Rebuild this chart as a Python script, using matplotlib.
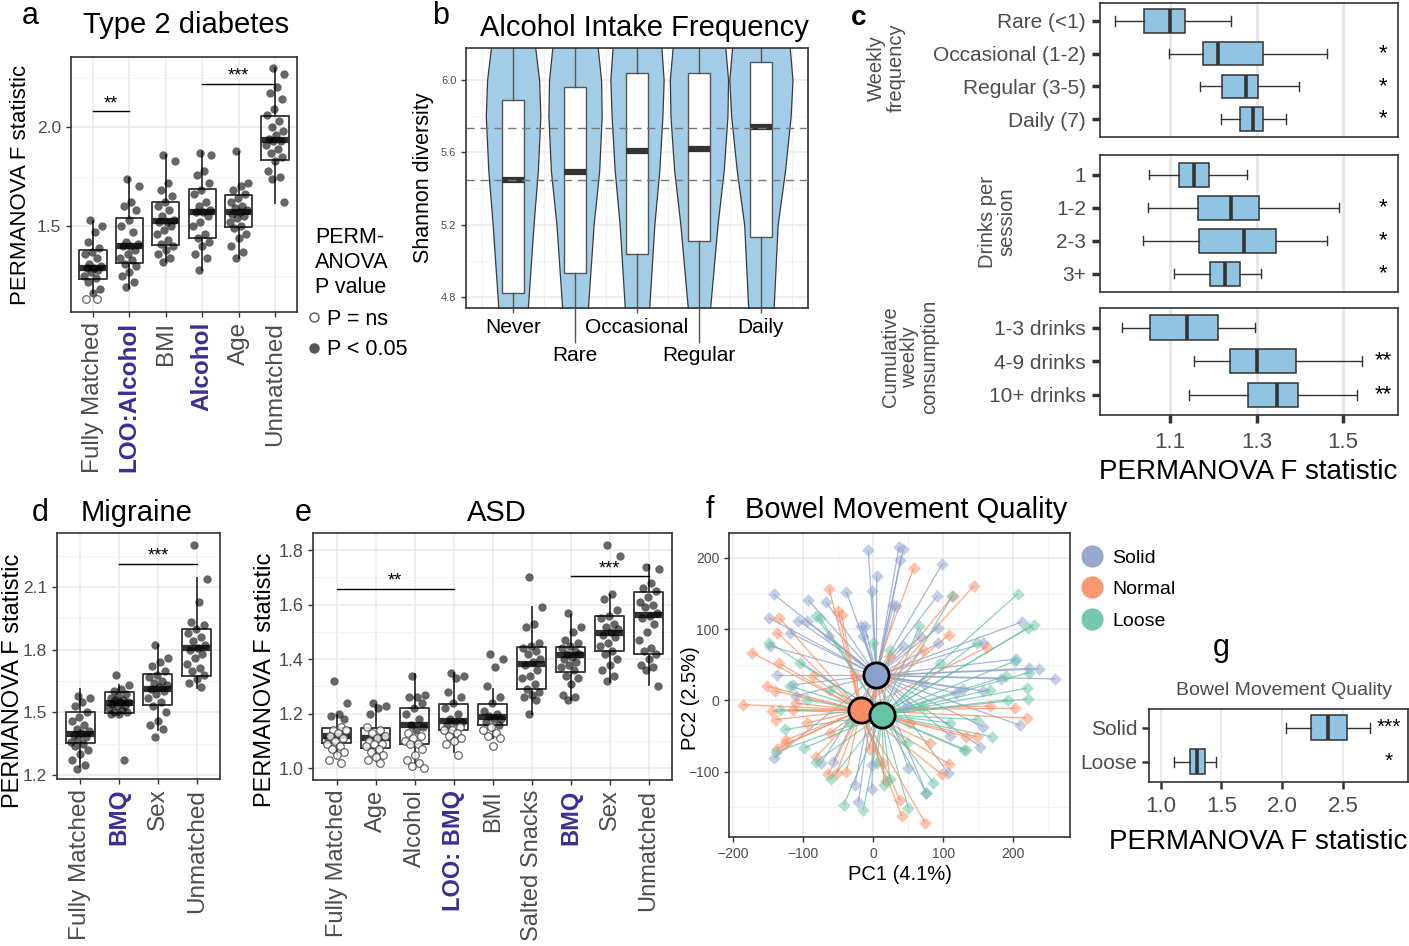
import numpy as np
import matplotlib.pyplot as plt
from matplotlib.lines import Line2D
from matplotlib.collections import LineCollection

plt.rcParams['font.family'] = ['Liberation Sans', 'DejaVu Sans']

W, H = 1409, 946
PURPLE = '#3b2f96'
DARK = '#333333'
GREY_TXT = '#4d4d4d'
BLUE_BOX = '#91c4e2'

# ---------------- panel a: Type 2 diabetes ----------------
a_labels = ['Fully Matched', 'LOO:Alcohol', 'BMI', 'Alcohol', 'Age', 'Unmatched']
a_highlight = [False, True, False, True, False, False]
a_q1 = [1.232, 1.313, 1.404, 1.439, 1.495, 1.833]
a_med = [1.288, 1.400, 1.525, 1.571, 1.571, 1.934]
a_q3 = [1.379, 1.540, 1.621, 1.687, 1.657, 2.056]
a_lo = [1.160, 1.187, 1.318, 1.278, 1.338, 1.616]
a_hi = [1.527, 1.742, 1.859, 1.874, 1.874, 2.298]
a_sig = [
    [1.53, 1.50, 1.47, 1.42, 1.39, 1.37, 1.36, 1.34, 1.31, 1.30, 1.29, 1.29, 1.28, 1.27, 1.25, 1.24, 1.22, 1.18, 1.16],
    [1.74, 1.70, 1.62, 1.60, 1.58, 1.53, 1.50, 1.47, 1.42, 1.41, 1.40, 1.40, 1.38, 1.36, 1.34, 1.33, 1.31, 1.30, 1.27, 1.25, 1.22, 1.19],
    [1.86, 1.83, 1.72, 1.68, 1.65, 1.62, 1.60, 1.58, 1.55, 1.53, 1.52, 1.52, 1.50, 1.48, 1.46, 1.43, 1.41, 1.40, 1.38, 1.36, 1.34, 1.32],
    [1.87, 1.86, 1.78, 1.76, 1.72, 1.68, 1.66, 1.62, 1.60, 1.58, 1.57, 1.57, 1.55, 1.52, 1.50, 1.46, 1.44, 1.42, 1.40, 1.36, 1.34, 1.28],
    [1.88, 1.72, 1.70, 1.68, 1.66, 1.64, 1.62, 1.60, 1.59, 1.58, 1.57, 1.56, 1.55, 1.54, 1.52, 1.50, 1.49, 1.46, 1.44, 1.40, 1.37, 1.34],
    [2.30, 2.27, 2.20, 2.17, 2.14, 2.09, 2.06, 2.03, 2.00, 1.98, 1.96, 1.94, 1.93, 1.93, 1.91, 1.89, 1.87, 1.85, 1.83, 1.78, 1.75, 1.74, 1.62],
]
a_ns = [[1.13, 1.13], [], [], [], [], []]
a_bars = [(1, 2, 2.08, '**'), (4, 6, 2.218, '***')]

# ---------------- panel b: Alcohol intake frequency ----------------
b_labels = ['Never', 'Rare', 'Occasional', 'Regular', 'Daily']
b_q1 = [4.82, 4.93, 5.04, 5.11, 5.13]
b_med = [5.447, 5.49, 5.61, 5.62, 5.74]
b_q3 = [5.889, 5.96, 6.04, 6.04, 6.10]
b_levels = [4.70, 5.20, 5.50, 5.80, 6.00, 6.20]
b_halfwidth = [
    [0.23, 0.33, 0.40, 0.44, 0.42, 0.35],
    [0.20, 0.30, 0.39, 0.43, 0.42, 0.36],
    [0.19, 0.28, 0.36, 0.41, 0.43, 0.39],
    [0.17, 0.30, 0.40, 0.46, 0.47, 0.42],
    [0.20, 0.27, 0.39, 0.48, 0.51, 0.46],
]
b_hlines = [5.735, 5.447]

# ---------------- panel c: alcohol facets ----------------
c_freq_labels = ['Rare (<1)', 'Occasional (1-2)', 'Regular (3-5)', 'Daily (7)']
c_freq_lo = [0.972, 1.097, 1.169, 1.218]
c_freq_q1 = [1.040, 1.175, 1.221, 1.261]
c_freq_med = [1.100, 1.211, 1.275, 1.292]
c_freq_q3 = [1.135, 1.315, 1.303, 1.314]
c_freq_hi = [1.241, 1.462, 1.397, 1.368]
c_freq_star = ['', '*', '*', '*']

c_sess_labels = ['1', '1-2', '2-3', '3+']
c_sess_lo = [1.051, 1.049, 1.038, 1.109]
c_sess_q1 = [1.121, 1.164, 1.167, 1.192]
c_sess_med = [1.156, 1.241, 1.271, 1.226]
c_sess_q3 = [1.190, 1.306, 1.346, 1.261]
c_sess_hi = [1.279, 1.490, 1.463, 1.310]
c_sess_star = ['', '*', '*', '*']

c_cum_labels = ['1-3 drinks', '4-9 drinks', '10+ drinks']
c_cum_lo = [0.990, 1.156, 1.144]
c_cum_q1 = [1.054, 1.238, 1.280]
c_cum_med = [1.138, 1.301, 1.348]
c_cum_q3 = [1.211, 1.391, 1.396]
c_cum_hi = [1.297, 1.544, 1.532]
c_cum_star = ['', '**', '**']

# ---------------- panel d: Migraine ----------------
d_labels = ['Fully Matched', 'BMQ', 'Sex', 'Unmatched']
d_highlight = [False, True, False, False]
d_q1 = [1.352, 1.497, 1.535, 1.676]
d_med = [1.396, 1.545, 1.612, 1.810]
d_q3 = [1.500, 1.597, 1.682, 1.897]
d_lo = [1.240, 1.487, 1.415, 1.618]
d_hi = [1.610, 1.631, 1.822, 2.142]
d_sig = [
    [1.58, 1.57, 1.55, 1.53, 1.50, 1.48, 1.46, 1.44, 1.42, 1.41, 1.40, 1.39, 1.38, 1.37, 1.36, 1.35, 1.34, 1.32, 1.30, 1.27, 1.25, 1.23],
    [1.68, 1.63, 1.61, 1.60, 1.59, 1.58, 1.57, 1.56, 1.56, 1.55, 1.55, 1.54, 1.53, 1.53, 1.52, 1.51, 1.50, 1.50, 1.49, 1.49, 1.27],
    [1.82, 1.76, 1.74, 1.72, 1.70, 1.68, 1.67, 1.65, 1.64, 1.63, 1.62, 1.61, 1.60, 1.59, 1.57, 1.55, 1.53, 1.50, 1.46, 1.44, 1.42, 1.38],
    [2.30, 2.14, 2.03, 1.93, 1.92, 1.90, 1.88, 1.86, 1.84, 1.82, 1.81, 1.80, 1.78, 1.76, 1.73, 1.71, 1.70, 1.68, 1.66, 1.64, 1.62],
]
d_ns = [[], [], [], []]
d_bars = [(2, 4, 2.21, '***')]

# ---------------- panel e: ASD ----------------
e_labels = ['Fully Matched', 'Age', 'Alcohol', 'LOO: BMQ', 'BMI', 'Salted Snacks', 'BMQ', 'Sex', 'Unmatched']
e_highlight = [False, False, False, True, False, False, True, False, False]
e_q1 = [1.091, 1.076, 1.088, 1.140, 1.157, 1.290, 1.354, 1.429, 1.421]
e_med = [1.120, 1.110, 1.159, 1.174, 1.187, 1.384, 1.415, 1.496, 1.561]
e_q3 = [1.146, 1.146, 1.222, 1.234, 1.237, 1.445, 1.445, 1.557, 1.646]
e_lo = [1.037, 1.028, 1.006, 1.061, 1.110, 1.198, 1.250, 1.315, 1.305]
e_hi = [1.195, 1.232, 1.344, 1.348, 1.290, 1.591, 1.563, 1.637, 1.744]
e_sig = [
    [1.32, 1.24, 1.20, 1.19, 1.18, 1.12, 1.11],
    [1.24, 1.23, 1.22, 1.20, 1.12, 1.11],
    [1.34, 1.27, 1.26, 1.26, 1.24, 1.22, 1.20, 1.18, 1.16, 1.15, 1.14],
    [1.35, 1.34, 1.33, 1.28, 1.26, 1.24, 1.22, 1.20, 1.18, 1.17, 1.17, 1.16],
    [1.42, 1.40, 1.37, 1.30, 1.26, 1.24, 1.21, 1.20, 1.19, 1.18, 1.18, 1.17, 1.16],
    [1.70, 1.59, 1.53, 1.52, 1.46, 1.45, 1.44, 1.43, 1.42, 1.40, 1.39, 1.38, 1.36, 1.34, 1.33, 1.31, 1.29, 1.28, 1.27, 1.26, 1.25, 1.20],
    [1.57, 1.52, 1.50, 1.47, 1.46, 1.45, 1.44, 1.43, 1.42, 1.42, 1.41, 1.40, 1.39, 1.38, 1.37, 1.36, 1.34, 1.33, 1.31, 1.27, 1.26, 1.25],
    [1.82, 1.78, 1.64, 1.62, 1.58, 1.56, 1.55, 1.53, 1.52, 1.51, 1.50, 1.49, 1.48, 1.46, 1.45, 1.43, 1.42, 1.40, 1.38, 1.36, 1.34, 1.32],
    [1.74, 1.73, 1.68, 1.66, 1.65, 1.63, 1.61, 1.60, 1.59, 1.57, 1.56, 1.55, 1.53, 1.50, 1.47, 1.44, 1.43, 1.42, 1.40, 1.38, 1.37, 1.36, 1.30],
]
e_ns = [
    [1.15, 1.14, 1.14, 1.13, 1.12, 1.11, 1.10, 1.09, 1.08, 1.07, 1.06, 1.05, 1.03, 1.02],
    [1.15, 1.14, 1.13, 1.12, 1.11, 1.10, 1.09, 1.09, 1.08, 1.07, 1.06, 1.05, 1.04, 1.03, 1.02],
    [1.13, 1.12, 1.11, 1.10, 1.09, 1.09, 1.07, 1.05, 1.03, 1.02, 1.01, 1.00],
    [1.15, 1.14, 1.14, 1.13, 1.12, 1.11, 1.10, 1.09, 1.05],
    [1.15, 1.14, 1.13, 1.12, 1.11, 1.08],
    [], [], [], [],
]
e_bars = [(1, 4, 1.659, '**'), (7, 9, 1.704, '***')]

# ---------------- panel f: PCoA spider ----------------
f_groups = ['Solid', 'Normal', 'Loose']
f_colors = ['#8da0cb', '#fc8d62', '#66c2a5']
f_centroid_x = [4.8, -18, 13]
f_centroid_y = [35, -14, -20]
solid_x = [-7, 37, 43, 39, 5, 99, -1, -142, -93, -67, -38, 91, 29, -149, -107, -95, -17, -12, 93, 212,
           -147, -63, 67, 93, 157, 204, 222, 237, 260, 183, 128, -137, -114, 157, 157, 210, 153, 110, -142, -74,
           -2, -26, -2, -21, 76, 50, 43, 33, -14, -119, 107, -57, 48, -110, 71, 119]
solid_y = [211, 216, 212, 197, 174, 192, 153, 149, 141, 138, 152, 146, 134, 116, 112, 111, 104, 105, 102, 110,
           76, 90, 90, 80, 80, 58, 45, 44, 30, 30, 16, 35, 22, 13, -37, -35, -65, -50, -81, -88,
           -91, -119, -124, -143, -130, -95, 76, 132, 90, 95, -102, -86, -8, 6, 24, 10]
normal_x = [58, 144, -63, -50, -45, -134, -137, 108, 163, -173, -134, -152, -140, -186, -144, -139, -125, -137, -126, -81,
            -64, -52, -38, 19, 38, 41, 74, 98, 109, 81, 133, 148, 202, 219, 114, -62, -95, -110, 24, -24,
            52, -5, -114, 167, 71, -86, 14]
normal_y = [186, 161, 157, 126, 120, 116, 95, 92, 75, 67, 52, 20, 13, -6, -15, -27, -56, -68, -62, -79,
            -104, -102, -100, -114, -140, -163, -172, -104, -90, -60, -51, -51, -11, -25, 147, -46, -32, -4, 62, 34,
            -32, -69, -13, -8, 71, 34, -88]
loose_x = [207, 113, 229, 221, 66, -76, -148, 148, -105, 202, 222, 219, 221, 193, 167, 169, 129, 133, 76, 86,
           50, 15, -14, -42, -60, -81, -98, -126, -133, -138, 0, 24, 110, 148, 71, -62, -95, -33, 48, 5,
           -81, 95, 24, -119, 190]
loose_y = [150, 147, 106, 102, 104, 116, 81, 81, 52, 55, 39, 17, 2, 1, 15, -51, -70, -70, -130, -116,
           -151, -119, -154, -147, -111, -86, -67, -41, -13, -72, 81, 71, -32, -27, -8, 15, 1, -32, -60, -88,
           118, 52, -111, 20, 34]
f_x = [solid_x, normal_x, loose_x]
f_y = [solid_y, normal_y, loose_y]

# ---------------- panel g: BMQ F statistics ----------------
g_labels = ['Solid', 'Loose']
g_lo = [2.034, 1.110]
g_q1 = [2.239, 1.239]
g_med = [2.376, 1.299]
g_q3 = [2.533, 1.363]
g_hi = [2.720, 1.459]
g_star = ['***', '*']


def add_ax(fig, x0, y0, x1, y1):
    return fig.add_axes([x0 / W, 1 - y1 / H, (x1 - x0) / W, (y1 - y0) / H])


def ftext(fig, x, y, s, **kw):
    kw.setdefault('va', 'center')
    return fig.text(x / W, 1 - y / H, s, **kw)


def base_style(ax):
    for s in ax.spines.values():
        s.set_color(DARK)
        s.set_linewidth(1.2)
    ax.tick_params(which='major', color=DARK, labelcolor=GREY_TXT, length=3.5, width=1)
    ax.tick_params(which='minor', length=0)
    ax.set_axisbelow(True)


def stats_list(q1, med, q3, lo, hi):
    return [dict(q1=a, med=m, q3=b, whislo=l, whishi=h, fliers=[]) for a, m, b, l, h in zip(q1, med, q3, lo, hi)]


def jitter(n, width=0.26):
    return ((np.arange(n) * 0.618034 + 0.37) % 1 - 0.5) * 2 * width


def box_panel(ax, labels, highlight, q1, med, q3, lo, hi, sig, ns, bars, ylim, yticks, yminor, ytick_fs, xlab_fs):
    n = len(labels)
    base_style(ax)
    ax.set_yticks(yticks)
    ax.set_yticks(yminor, minor=True)
    ax.grid(which='major', color='#ebebeb', lw=1.1)
    ax.grid(which='minor', axis='y', color='#f3f3f3', lw=0.7)
    ax.bxp(stats_list(q1, med, q3, lo, hi), positions=range(1, n + 1), widths=0.75,
           showcaps=False, showfliers=False,
           boxprops=dict(color=DARK, lw=1.3), whiskerprops=dict(color=DARK, lw=1.3),
           medianprops=dict(color=DARK, lw=4.5, solid_capstyle='butt'), zorder=2)
    for i in range(n):
        vals = sig[i] + ns[i]
        off = jitter(len(vals))
        ax.scatter(i + 1 + off[:len(sig[i])], sig[i], s=36, color='black', alpha=0.6, lw=0, zorder=3)
        if ns[i]:
            ax.scatter(i + 1 + off[len(sig[i]):], ns[i], s=30, facecolor='white', edgecolor='#444444',
                       alpha=0.8, lw=0.9, zorder=3)
    for x1, x2, y, star in bars:
        ax.plot([x1, x2], [y, y], color='black', lw=1, zorder=4)
        ax.text((x1 + x2) / 2, y - 0.005, star, ha='center', va='bottom', fontsize=13, zorder=4)
    ax.set_xlim(0.4, n + 0.6)
    ax.set_ylim(*ylim)
    ax.set_xticks(range(1, n + 1))
    ax.set_xticklabels(labels, rotation=90, fontsize=xlab_fs)
    for t, hl in zip(ax.get_xticklabels(), highlight):
        if hl:
            t.set_color(PURPLE)
            t.set_fontweight('bold')
    ax.tick_params(axis='y', labelsize=ytick_fs)


fig = plt.figure(figsize=(W / 100, H / 100), dpi=100)

# ---- a ----
ax_a = add_ax(fig, 71, 57, 297, 312)
box_panel(ax_a, a_labels, a_highlight, a_q1, a_med, a_q3, a_lo, a_hi, a_sig, a_ns, a_bars,
          (1.066, 2.354), [1.5, 2.0], [1.25, 1.75, 2.25], 12.5, 17.5)
ax_a.set_yticklabels(['1.5', '2.0'])
ax_a.set_ylabel('PERMANOVA F statistic', fontsize=16, labelpad=4)
ftext(fig, 22, 16, 'a', fontsize=22)
ftext(fig, 186, 25, 'Type 2 diabetes', fontsize=21, ha='center')
ftext(fig, 315, 262, 'PERM-\nANOVA\nP value', fontsize=15.5, linespacing=1.25)
leg_a = [Line2D([], [], marker='o', ls='', ms=6.5, mfc='white', mec='#555555', mew=1),
         Line2D([], [], marker='o', ls='', ms=6.5, mfc='#555555', mec='#555555')]
fig.legend(leg_a, ['P = ns', 'P < 0.05'], loc='upper left', bbox_to_anchor=(303 / W, 1 - 309 / H),
           frameon=False, fontsize=15.5, handletextpad=0.1, labelspacing=0.42, handlelength=1.0,
           borderpad=0, borderaxespad=0)

# ---- b ----
ax_b = add_ax(fig, 466, 48, 808, 308)
base_style(ax_b)
ax_b.set_yticks([4.8, 5.2, 5.6, 6.0])
ax_b.set_yticklabels(['4.8', '5.2', '5.6', '6.0'])
ax_b.set_yticks([5.0, 5.4, 5.8], minor=True)
ax_b.grid(which='major', axis='y', color='#ebebeb', lw=1.1)
ax_b.grid(which='minor', axis='y', color='#f3f3f3', lw=0.7)
for xv in np.arange(0.5, 6.0, 1.0):
    ax_b.axvline(xv, color='#f0f0f0', lw=0.8, zorder=0)
yy = np.linspace(b_levels[0], b_levels[-1], 200)
for i, hw in enumerate(b_halfwidth):
    w = np.interp(yy, b_levels, hw)
    ax_b.fill_betweenx(yy, i + 1 - w, i + 1 + w, facecolor='#a3cde6', edgecolor='#3a3a3a', lw=0.9, zorder=1)
b_stats = stats_list(b_q1, b_med, b_q3, [4.0] * 5, [7.0] * 5)
ax_b.bxp(b_stats, positions=range(1, 6), widths=0.35, showcaps=False, showfliers=False,
         patch_artist=True, manage_ticks=False,
         boxprops=dict(facecolor='white', edgecolor='#555555', lw=1.0),
         whiskerprops=dict(color='#555555', lw=1.0),
         medianprops=dict(color=DARK, lw=4.5, solid_capstyle='butt'), zorder=2)
for yv in b_hlines:
    ax_b.axhline(yv, color='#777777', lw=1.0, ls=(0, (6, 4)), zorder=3)
ax_b.set_xlim(0.24, 5.76)
ax_b.set_ylim(4.739, 6.177)
ax_b.set_xticks([1, 3, 5])
ax_b.set_xticklabels([b_labels[0], b_labels[2], b_labels[4]], fontsize=15, color='black')
ax_b.set_xticks([2, 4], minor=True)
ax_b.set_xticklabels([b_labels[1], b_labels[3]], minor=True, fontsize=15, color='black')
ax_b.tick_params(axis='x', which='major', length=3.5, color='#555555', labelcolor='black')
ax_b.tick_params(axis='x', which='minor', length=25, width=1, color='#555555', pad=2, labelcolor='black')
ax_b.tick_params(axis='y', labelsize=8)
ax_b.set_ylabel('Shannon diversity', fontsize=15.5, labelpad=5)
ftext(fig, 432, 16, 'b', fontsize=22)
ftext(fig, 644, 28, 'Alcohol Intake Frequency', fontsize=21, ha='center')

# ---- c ----
c_facets = [
    (3, 137, c_freq_labels, c_freq_lo, c_freq_q1, c_freq_med, c_freq_q3, c_freq_hi, c_freq_star, (4.55, 0.45)),
    (155, 292, c_sess_labels, c_sess_lo, c_sess_q1, c_sess_med, c_sess_q3, c_sess_hi, c_sess_star, (4.55, 0.40)),
    (308, 415, c_cum_labels, c_cum_lo, c_cum_q1, c_cum_med, c_cum_q3, c_cum_hi, c_cum_star, (3.6, 0.42)),
]
for k, (y0, y1, labs, lo, q1, med, q3, hi, stars, ylim) in enumerate(c_facets):
    ax = add_ax(fig, 1100, y0, 1398, y1)
    base_style(ax)
    for xv in [1.1, 1.3, 1.5]:
        ax.axvline(xv, color='#e8e8e8', lw=2.2, zorder=0)
    n = len(labs)
    ax.bxp(stats_list(q1, med, q3, lo, hi), positions=range(1, n + 1), widths=0.72,
           orientation='horizontal', patch_artist=True, showfliers=False, capwidths=0.28,
           boxprops=dict(facecolor=BLUE_BOX, edgecolor=DARK, lw=1.1),
           whiskerprops=dict(color=DARK, lw=1.0), capprops=dict(color=DARK, lw=1.0),
           medianprops=dict(color=DARK, lw=2.6, solid_capstyle='butt'), zorder=2)
    for i, st in enumerate(stars):
        if st:
            ax.text(1.592, i + 1, st, ha='center', va='center', fontsize=16)
    ax.set_ylim(*ylim)
    ax.set_xlim(0.938, 1.627)
    ax.set_yticks(range(1, n + 1))
    ax.set_yticklabels(labs, fontsize=15)
    ax.tick_params(axis='y', length=6, width=2.5, color=DARK, labelcolor=GREY_TXT, pad=4)
    ax.set_xticks([1.1, 1.3, 1.5])
    if k < 2:
        ax.tick_params(axis='x', bottom=False, labelbottom=False)
    else:
        ax.set_xticklabels(['1.1', '1.3', '1.5'])
        ax.tick_params(axis='x', length=6, width=2.5, labelsize=16, pad=6)
ftext(fig, 1248, 472, 'PERMANOVA F statistic', fontsize=20, ha='center')
ftext(fig, 851, 18, 'c', fontsize=20, fontweight='bold')
ftext(fig, 886, 68, 'Weekly\nfrequency', fontsize=14.5, rotation=90, ha='center', color=GREY_TXT, linespacing=1.05)
ftext(fig, 997, 222, 'Drinks per\nsession', fontsize=14.5, rotation=90, ha='center', color=GREY_TXT, linespacing=1.05)
ftext(fig, 910, 357, 'Cumulative\nweekly\nconsumption', fontsize=14.5, rotation=90, ha='center', color=GREY_TXT,
      linespacing=1.05)

# ---- d ----
ax_d = add_ax(fig, 57, 533, 220, 779)
box_panel(ax_d, d_labels, d_highlight, d_q1, d_med, d_q3, d_lo, d_hi, d_sig, d_ns, d_bars,
          (1.181, 2.358), [1.2, 1.5, 1.8, 2.1], [1.35, 1.65, 1.95, 2.25], 12.5, 17.5)
ax_d.set_yticklabels(['1.2', '1.5', '1.8', '2.1'])
ax_d.set_ylabel('PERMANOVA F statistic', fontsize=17)
ax_d.yaxis.set_label_coords(-0.20, 0.40)
ftext(fig, 32, 513, 'd', fontsize=22)
ftext(fig, 137, 513, 'Migraine', fontsize=21, ha='center')

# ---- e ----
ax_e = add_ax(fig, 313, 533, 672, 780)
box_panel(ax_e, e_labels, e_highlight, e_q1, e_med, e_q3, e_lo, e_hi, e_sig, e_ns, e_bars,
          (0.957, 1.863), [1.0, 1.2, 1.4, 1.6, 1.8], [1.1, 1.3, 1.5, 1.7], 13, 17)
ax_e.set_yticklabels(['1.0', '1.2', '1.4', '1.6', '1.8'])
ax_e.set_xlim(0.39, 9.6)
ax_e.set_ylabel('PERMANOVA F statistic', fontsize=17)
ax_e.yaxis.set_label_coords(-0.103, 0.405)
ftext(fig, 295, 513, 'e', fontsize=22)
ftext(fig, 497, 513, 'ASD', fontsize=21, ha='center')

# ---- f ----
ax_f = add_ax(fig, 729, 533, 1070, 837)
base_style(ax_f)
ax_f.set_xticks([-200, -100, 0, 100, 200])
ax_f.set_xticks([-150, -50, 50, 150, 250], minor=True)
ax_f.set_yticks([-100, 0, 100, 200])
ax_f.set_yticks([-150, -50, 50, 150], minor=True)
ax_f.grid(which='major', color='#ebebeb', lw=1.1)
ax_f.grid(which='minor', color='#f3f3f3', lw=0.7)
for gx, gy, cx, cy, col in zip(f_x, f_y, f_centroid_x, f_centroid_y, f_colors):
    segs = [[(cx, cy), (px, py)] for px, py in zip(gx, gy)]
    ax_f.add_collection(LineCollection(segs, colors=col, lw=0.9, alpha=0.75, zorder=2))
    ax_f.scatter(gx, gy, marker='D', s=42, color=col, alpha=0.5, lw=0, zorder=3)
for cx, cy, col in zip(f_centroid_x, f_centroid_y, f_colors):
    ax_f.scatter([cx], [cy], s=330, color=col, edgecolor='black', lw=2, zorder=5)
ax_f.set_xlim(-205.7, 281)
ax_f.set_ylim(-192, 235)
ax_f.tick_params(labelsize=10)
ax_f.set_xlabel('PC1 (4.1%)', fontsize=14.5, labelpad=3)
ax_f.set_ylabel('PC2 (2.5%)', fontsize=14.5)
ax_f.yaxis.set_label_coords(-0.085, 0.457)
ftext(fig, 706, 510, 'f', fontsize=22)
ftext(fig, 906, 510, 'Bowel Movement Quality', fontsize=21, ha='center')
leg_f = [Line2D([], [], marker='o', ls='', ms=16, color=c, alpha=0.9, mew=0) for c in f_colors]
fig.legend(leg_f, f_groups, loc='upper left', bbox_to_anchor=(1080 / W, 1 - 549 / H), frameon=False,
           fontsize=14, handletextpad=0.45, labelspacing=0.72, handlelength=1.2, borderpad=0, borderaxespad=0)

# ---- g ----
ax_g = add_ax(fig, 1149, 709, 1408, 782)
base_style(ax_g)
for xv in [1.0, 1.5, 2.0, 2.5]:
    ax_g.axvline(xv, color='#ebebeb', lw=1.4, zorder=0)
ax_g.bxp(stats_list(g_q1, g_med, g_q3, g_lo, g_hi), positions=[1, 2], widths=0.72,
         orientation='horizontal', patch_artist=True, showfliers=False, capwidths=0.3,
         boxprops=dict(facecolor=BLUE_BOX, edgecolor=DARK, lw=1.1),
         whiskerprops=dict(color=DARK, lw=1.0), capprops=dict(color=DARK, lw=1.0),
         medianprops=dict(color=DARK, lw=2.6, solid_capstyle='butt'), zorder=2)
for i, st in enumerate(g_star):
    ax_g.text(2.88, i + 1, st, ha='center', va='center', fontsize=15)
ax_g.set_ylim(2.6, 0.45)
ax_g.set_xlim(0.904, 3.036)
ax_g.set_yticks([1, 2])
ax_g.set_yticklabels(g_labels, fontsize=15)
ax_g.set_xticks([1.0, 1.5, 2.0, 2.5])
ax_g.set_xticklabels(['1.0', '1.5', '2.0', '2.5'])
ax_g.tick_params(axis='both', length=5, width=1.8, color=DARK, labelcolor=GREY_TXT)
ax_g.tick_params(axis='x', labelsize=16, pad=5)
ftext(fig, 1213, 648, 'g', fontsize=22)
ftext(fig, 1284, 690, 'Bowel Movement Quality', fontsize=14, ha='center', color=GREY_TXT)
ftext(fig, 1258, 842, 'PERMANOVA F statistic', fontsize=20, ha='center')

fig.savefig('out.png', dpi=100)
